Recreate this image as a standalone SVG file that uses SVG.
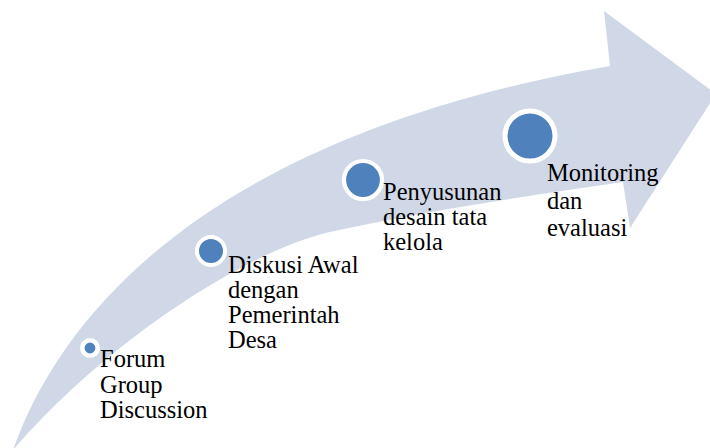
<svg xmlns="http://www.w3.org/2000/svg" width="710" height="448" viewBox="0 0 710 448">
  <style>
    .band { fill: #D0D8E8; stroke: none; }
    .dot { fill: #4F81BD; stroke: #FFFFFF; }
    .lbl { font-family: "Liberation Serif", "Times New Roman", serif; font-size: 24.5px; fill: #000000; }
  </style>
  <rect width="710" height="448" fill="#FFFFFF"/>
  <g id="connectors">
    <path class="band" d="M 13 450 C 70 290, 240 130, 610 66 L 604 11 L 716 94 L 630 228 L 623 182 C 520 197, 420 212, 330 232 C 250 250, 110 338, 13 450 Z"/>
  </g>
  <g id="node-fgd">
    <circle class="dot" cx="90" cy="348" r="7.7" stroke-width="4.6"/>
    <text class="lbl" x="100" y="367">Forum</text>
    <text class="lbl" x="100" y="393">Group</text>
    <text class="lbl" x="100" y="418">Discussion</text>
  </g>
  <g id="node-diskusi">
    <circle class="dot" cx="211" cy="251" r="14" stroke-width="4"/>
    <text class="lbl" x="228" y="273">Diskusi Awal</text>
    <text class="lbl" x="228" y="298">dengan</text>
    <text class="lbl" x="228" y="323">Pemerintah</text>
    <text class="lbl" x="228" y="348">Desa</text>
  </g>
  <g id="node-penyusunan">
    <circle class="dot" cx="363" cy="180" r="19" stroke-width="4.2"/>
    <text class="lbl" x="383" y="200">Penyusunan</text>
    <text class="lbl" x="383" y="225">desain tata</text>
    <text class="lbl" x="383" y="250">kelola</text>
  </g>
  <g id="node-monitoring">
    <circle class="dot" cx="530" cy="136" r="25" stroke-width="5"/>
    <text class="lbl" x="547" y="181">Monitoring</text>
    <text class="lbl" x="547" y="209">dan</text>
    <text class="lbl" x="547" y="236">evaluasi</text>
  </g>
</svg>
